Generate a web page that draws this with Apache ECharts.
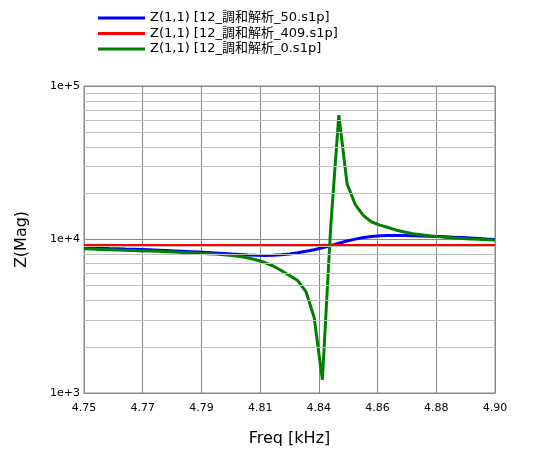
<!DOCTYPE html>
<html>
<head>
<meta charset="utf-8">
<script src="https://cdn.jsdelivr.net/npm/echarts@6/dist/echarts.min.js"></script>
<style>html,body{margin:0;padding:0;background:#fff}#c{width:534px;height:458px}</style>
</head>
<body>
<div id="c"></div>
<script>
// Frequencies (kHz)
const freqs = [4.750,4.753,4.756,4.759,4.762,4.765,4.768,4.771,4.774,4.777,
4.780,4.783,4.786,4.789,4.792,4.795,4.798,4.801,4.804,4.807,
4.810,4.813,4.816,4.819,4.822,4.825,4.828,4.831,4.834,4.837,
4.840,4.843,4.846,4.849,4.852,4.855,4.858,4.861,4.864,4.867,
4.870,4.873,4.876,4.879,4.882,4.885,4.888,4.891,4.894,4.897,4.900];
// Z(1,1) [12_調和解析_50.s1p]
const blueValues = [8830,8800,8780,8740,8710,8670,8640,8600,8560,8520,
8480,8430,8380,8330,8280,8230,8170,8110,8040,7980,
7920,7890,7870,7890,7950,8040,8190,8380,8580,8830,
9110,9450,9780,10060,10300,10470,10580,10630,10630,10620,
10580,10550,10510,10460,10410,10350,10290,10220,10140,10060,9990];
// Z(1,1) [12_調和解析_409.s1p]
const redValues = [9140,9140,9140,9140,9140,9140,9140,9140,9140,9140,
9140,9140,9140,9140,9140,9140,9140,9140,9140,9140,
9140,9140,9140,9140,9140,9140,9140,9140,9140,9140,
9140,9140,9140,9140,9140,9140,9140,9140,9140,9140,
9140,9140,9140,9140,9140,9140,9140,9140,9140,9140,9140];
// Z(1,1) [12_調和解析_0.s1p]
const greenValues = [8700,8660,8620,8580,8540,8500,8470,8430,8400,8370,
8330,8290,8240,8190,8140,8090,8030,7960,7870,7750,
7580,7350,7080,6720,6280,5830,5400,4580,3100,1220,
11800,64700,23100,16900,14300,13000,12400,11970,11500,11200,
10900,10750,10590,10440,10330,10240,10150,10080,10020,9970,9940];
const seriesNames = ['Z(1,1) [12_調和解析_50.s1p]','Z(1,1) [12_調和解析_409.s1p]','Z(1,1) [12_調和解析_0.s1p]'];
const seriesColors = ['#0000ff','#ff0000','#008000'];
const xMin = 4.75, xMax = 4.90, xDivisions = 7;
const minorGrid = [2000,3000,4000,5000,6000,7000,8000,9000,20000,30000,40000,50000,60000,70000,80000,90000];

const toU = f => (f - xMin) * xDivisions / (xMax - xMin);
const fromU = u => xMin + u * (xMax - xMin) / xDivisions;
const mk = vals => freqs.map((f, i) => [toU(f), vals[i]]);

const FONT = 'DejaVu Sans, Noto Sans CJK JP, sans-serif';
const chart = echarts.init(document.getElementById('c'), null, {renderer: 'canvas'});
const lineSeries = [blueValues, redValues, greenValues].map((vals, i) => ({
  name: seriesNames[i], type: 'line', data: mk(vals), showSymbol: false, symbol: 'none',
  z: 3, animation: false,
  lineStyle: {color: seriesColors[i], width: 3}, itemStyle: {color: seriesColors[i]}
}));
lineSeries.push({
  name: '_minor', type: 'line', data: [], z: 1, silent: true, animation: false,
  markLine: {silent: true, symbol: 'none', animation: false, label: {show: false},
    lineStyle: {color: '#c0c0c0', width: 1, type: 'solid'},
    data: minorGrid.map(v => ({yAxis: v}))}
});
chart.setOption({
  backgroundColor: '#ffffff',
  animation: false,
  legend: {
    data: seriesNames.map(n => ({name: n, icon: 'rect'})), orient: 'vertical', left: 98, top: 11, padding: 0,
    itemWidth: 47, itemHeight: 3, itemGap: 1.5,
    textStyle: {fontFamily: FONT, fontSize: 13, color: '#000', lineHeight: 14, height: 14}
  },
  grid: {left: 84, right: 39, top: 86, bottom: 65, show: true, borderColor: '#888', borderWidth: 1, backgroundColor: '#fff'},
  xAxis: {
    type: 'value', min: 0, max: xDivisions, interval: 1,
    name: 'Freq [kHz]', nameLocation: 'middle', nameGap: 38,
    nameTextStyle: {fontFamily: FONT, fontSize: 16, color: '#000'},
    axisLine: {show: true, lineStyle: {color: '#888'}},
    axisTick: {show: false},
    axisLabel: {fontFamily: FONT, fontSize: 11, color: '#000', margin: 10,
      formatter: v => fromU(v).toFixed(2)},
    splitLine: {show: true, lineStyle: {color: '#888', width: 1}}
  },
  yAxis: {
    type: 'log', logBase: 10, min: 1000, max: 100000,
    name: 'Z(Mag)', nameLocation: 'middle', nameGap: 54, nameRotate: 90,
    nameTextStyle: {fontFamily: FONT, fontSize: 16, color: '#000'},
    axisLine: {show: true, lineStyle: {color: '#888'}},
    axisTick: {show: false},
    axisLabel: {fontFamily: FONT, fontSize: 11, color: '#000', margin: 4,
      formatter: v => '1e+' + Math.round(Math.log10(v))},
    splitLine: {show: true, lineStyle: {color: '#888', width: 1}},
    minorTick: {show: false}, minorSplitLine: {show: false}
  },
  series: lineSeries
});
</script>
</body>
</html>
